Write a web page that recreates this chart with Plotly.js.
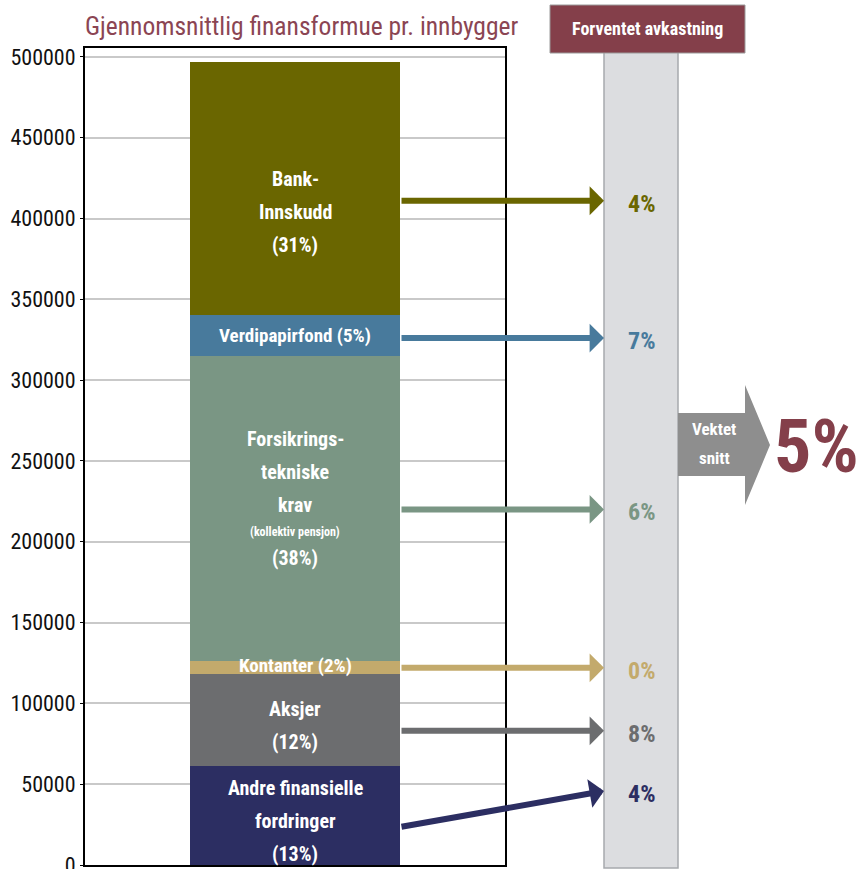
<!DOCTYPE html>
<html>
<head>
<meta charset="utf-8">
<script src="https://cdn.plot.ly/plotly-3.0.1.min.js"></script>
<style>html,body{margin:0;padding:0;background:#fff;}#chart{width:861px;height:869px;}
#chart svg text{font-stretch:75%;}</style>
</head>
<body>
<div id="chart"></div>
<script>
// ---- data (stack order: bottom to top) ----
var categories = ['Andre finansielle fordringer', 'Aksjer', 'Kontanter', 'Forsikringstekniske krav', 'Verdipapirfond', 'Bank-Innskudd'];
var values = [61000, 57000, 8000, 189000, 25000, 157000];
var shareLabels = ['13%', '12%', '2%', '38%', '5%', '31%'];
var expectedReturn = ['4%', '8%', '0%', '6%', '7%', '4%'];
var arrowTailY = [23500, 83000, 122000, 220000, 326000, 411000];
var arrowTipY = [45800, 83000, 122000, 220000, 326000, 411000];
var weightedAverage = '5%';
var yTickVals = [0, 50000, 100000, 150000, 200000, 250000, 300000, 350000, 400000, 450000, 500000];
var yTickText = ['0', '50000', '100000', '150000', '200000', '250000', '300000', '350000', '400000', '450000', '500000'];
var titleText = 'Gjennomsnittlig finansformue pr. innbygger';
var headerText = 'Forventet avkastning';
var avgLabelLines = ['Vektet', 'snitt'];
// text lines inside each segment
var segmentLines = [
  [['Andre finansielle', 20], ['fordringer', 20], ['(' + shareLabels[0] + ')', 20]],
  [['Aksjer', 20], ['(' + shareLabels[1] + ')', 20]],
  [['Kontanter (' + shareLabels[2] + ')', 19]],
  [['Forsikrings-', 20], ['tekniske', 20], ['krav', 20], ['(kollektiv pensjon)', 12], ['(' + shareLabels[3] + ')', 20]],
  [['Verdipapirfond (' + shareLabels[4] + ')', 19]],
  [['Bank-', 20], ['Innskudd', 20], ['(' + shareLabels[5] + ')', 20]]
];

// ---- styles ----
var colors = ['#2c2e62', '#6c6d6f', '#c3aa6c', '#7a9684', '#487a9c', '#6a6600'];
var labelShift = [-5, -5, 2, 10, 0, -23];
var FONT = '"Roboto Condensed", Roboto, "Open Sans", sans-serif';
var RED = '#843f4a';

var M = {l: 85, r: 356, t: 48, b: 4};
var W = 861, H = 869;
var plotW = W - M.l - M.r, plotH = H - M.t - M.b;
function px(x) { return (x - M.l) / plotW; }
function py(y) { return (H - M.b - y) / plotH; }

var traces = categories.map(function (c, i) {
  return {
    type: 'bar', x: ['stack'], y: [values[i]], name: c,
    marker: {color: colors[i], line: {width: 0}},
    hoverinfo: 'skip', textposition: 'none'
  };
});

var annotations = [];
var cum = 0;
values.forEach(function (v, i) {
  var mid = cum + v / 2;
  cum += v;
  var lines = segmentLines[i];
  var offs = [0];
  for (var k = 1; k < lines.length; k++) {
    offs.push(offs[k - 1] + (lines[k - 1][1] + lines[k][1]) / 2 * 1.65);
  }
  var centre = offs[offs.length - 1] / 2;
  lines.forEach(function (ln, k) {
    annotations.push({
      xref: 'x domain', yref: 'y', x: 0.5, y: mid,
      text: '<b>' + ln[0] + '</b>', showarrow: false,
      yshift: -(offs[k] - centre) + labelShift[i],
      font: {family: FONT, size: ln[1], color: '#ffffff'},
      xanchor: 'center', yanchor: 'middle'
    });
  });
  annotations.push({
    xref: 'x domain', yref: 'y', axref: 'x domain', ayref: 'y',
    x: px(604), y: arrowTipY[i], ax: 0.75, ay: arrowTailY[i],
    text: '', showarrow: true, arrowhead: 1, arrowsize: 0.8, arrowwidth: 6,
    arrowcolor: colors[i], standoff: 0, startstandoff: 0
  });
  annotations.push({
    xref: 'x domain', yref: 'y', x: px(641), y: arrowTipY[i],
    text: '<b>' + expectedReturn[i] + '</b>', showarrow: false, yshift: -3,
    font: {family: FONT, size: 24, color: colors[i]},
    xanchor: 'center', yanchor: 'middle'
  });
});

annotations.push({
  xref: 'paper', yref: 'paper', x: px(647.5), y: py(29),
  text: '<b>' + headerText + '</b>', showarrow: false,
  font: {family: FONT, size: 18, color: '#ffffff'}, xanchor: 'center', yanchor: 'middle'
});
avgLabelLines.forEach(function (t, k) {
  annotations.push({
    xref: 'paper', yref: 'paper', x: px(714), y: py(429 + k * 29),
    text: '<b>' + t + '</b>', showarrow: false,
    font: {family: FONT, size: 17, color: '#ffffff'}, xanchor: 'center', yanchor: 'middle'
  });
});
annotations.push({
  xref: 'paper', yref: 'paper', x: px(816), y: py(446),
  text: '<b>' + weightedAverage + '</b>', showarrow: false,
  font: {family: FONT, size: 74, color: RED}, xanchor: 'center', yanchor: 'middle'
});

var shapes = [
  {type: 'rect', xref: 'paper', yref: 'paper', x0: px(604), x1: px(678), y0: py(868), y1: py(52),
   fillcolor: '#dcdde0', line: {color: '#a6a9ad', width: 1.5}, layer: 'above'},
  {type: 'rect', xref: 'paper', yref: 'paper', x0: px(550), x1: px(745), y0: py(53), y1: py(5),
   fillcolor: RED, line: {color: '#9a9a9a', width: 1}, layer: 'above'},
  {type: 'path', xref: 'paper', yref: 'paper', layer: 'above',
   path: 'M' + px(678) + ',' + py(413) + ' L' + px(745) + ',' + py(413) + ' L' + px(745) + ',' + py(385) +
         ' L' + px(770) + ',' + py(445) + ' L' + px(745) + ',' + py(505) + ' L' + px(745) + ',' + py(476) +
         ' L' + px(678) + ',' + py(476) + ' Z',
   fillcolor: '#8e8e8e', line: {width: 0}}
];

var layout = {
  width: W, height: H, margin: M,
  paper_bgcolor: '#ffffff', plot_bgcolor: '#ffffff',
  showlegend: false, barmode: 'stack', bargap: 0.5,
  title: {text: titleText, x: 0, xref: 'paper', xanchor: 'left', y: 1 - 26 / H, yref: 'container', yanchor: 'middle',
          font: {family: FONT, size: 25.5, color: '#8b4553'}},
  xaxis: {type: 'category', range: [-0.5, 0.5], showticklabels: false, showgrid: false, zeroline: false,
          showline: true, linecolor: '#000000', linewidth: 2, mirror: true, fixedrange: true},
  yaxis: {range: [0, 505500], tickmode: 'array', tickvals: yTickVals, ticktext: yTickText,
          showline: true, linecolor: '#000000', linewidth: 2, mirror: true,
          ticks: 'outside', ticklen: 3, tickcolor: '#000000',
          ticklabeloverflow: 'allow',
          showgrid: true, gridcolor: '#c9c9c9', gridwidth: 2, zeroline: false,
          tickfont: {family: FONT, size: 22, color: '#111111'}, fixedrange: true},
  shapes: shapes,
  annotations: annotations
};

Plotly.newPlot('chart', traces, layout, {staticPlot: true, displayModeBar: false});
</script>
</body>
</html>
